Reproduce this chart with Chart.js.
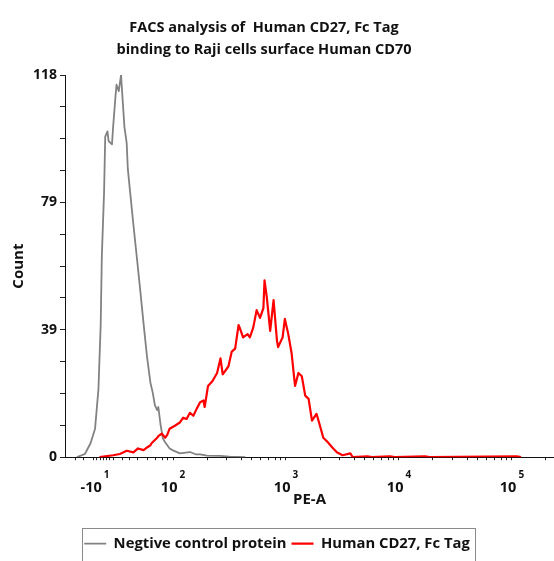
<!DOCTYPE html>
<html>
<head>
<meta charset="utf-8">
<script src="https://cdn.jsdelivr.net/npm/chart.js@4.4.1/dist/chart.umd.min.js"></script>
<style>
  html, body { margin: 0; padding: 0; background: #fff; }
</style>
</head>
<body>
<canvas id="facsChart" width="554" height="561"></canvas>
<script>
// PE-A is given in display decades: 2 = 10^2, 3 = 10^3 ... (below 2 is the linear / negative part)
const negPeA = [1.15, 1.22, 1.27, 1.31, 1.34, 1.36, 1.37, 1.39, 1.40, 1.42,
    1.43, 1.46, 1.47, 1.49, 1.50, 1.52, 1.54, 1.55, 1.57, 1.59,
    1.60, 1.62, 1.65, 1.68, 1.71, 1.74, 1.77, 1.80, 1.82, 1.84,
    1.86, 1.87, 1.89, 1.91, 1.93, 1.97, 2.00, 2.06, 2.13, 2.15,
    2.20, 2.24, 2.30, 2.42, 2.50, 2.64];
const negCount = [0, 1, 4.3, 8.8, 21, 41, 62, 82, 99, 100.6,
    97.6, 96.6, 102, 111, 115, 113, 118, 112.5, 102, 97,
    89, 82, 71.6, 61.6, 51.5, 41, 31, 23, 20, 16,
    14.5, 15.5, 10, 5.8, 4.6, 2.7, 2.1, 1.2, 1.5, 1.6,
    0.9, 0.9, 0.5, 0.4, 0.2, 0];

const cd27PeA = [1.35, 1.47, 1.53, 1.59, 1.65, 1.69, 1.74, 1.77, 1.80, 1.81,
    1.86, 1.87, 1.90, 1.93, 1.95, 1.97, 2.02, 2.06, 2.09, 2.12,
    2.15, 2.18, 2.21, 2.24, 2.27, 2.28, 2.31, 2.35, 2.39, 2.42,
    2.44, 2.49, 2.52, 2.55, 2.58, 2.59, 2.62, 2.66, 2.68, 2.71,
    2.74, 2.77, 2.80, 2.81, 2.83, 2.86, 2.89, 2.92, 2.93, 2.97,
    2.99, 3.02, 3.05, 3.08, 3.11, 3.14, 3.17, 3.20, 3.23, 3.27,
    3.30, 3.33, 3.37, 3.41, 3.45, 3.50, 3.57, 3.59, 3.72, 3.76,
    3.92, 3.96, 4.23, 4.27, 5.04, 5.08];
const cd27Count = [0, 0.6, 1, 2, 1.5, 2.7, 2.2, 3, 3.7, 4.3,
    6, 6.5, 7.3, 6, 7, 8.8, 9.8, 10.7, 12.2, 11.8,
    13.7, 12.8, 15, 17, 17.5, 15.5, 22, 23.5, 26, 30.5,
    25.6, 28, 32.6, 33.5, 40.8, 40, 37, 38, 37, 40,
    45.4, 43, 46, 54.6, 49.4, 39, 48.5, 36, 34, 37,
    42.7, 38, 32, 22, 26, 25, 19, 18, 11.3, 13.4,
    9.8, 6, 4.6, 3, 1.5, 0.6, 1.2, 0, 0.3, 0,
    0.3, 0, 0.3, 0, 0.3, 0];

const seriesNames = ['Negtive control protein', 'Human CD27, Fc Tag'];
const titleLines = ['FACS analysis of  Human CD27, Fc Tag', 'binding to Raji cells surface Human CD70'];

const xMin = 1.044;
const xMax = 5.372;
const xTickPos = [1.31, 2, 3, 4, 5];
const xTickBase = ['-10', '10', '10', '10', '10'];
const xTickExp = ['1', '2', '3', '4', '5'];
// small tick marks of the biexponential axis
const xMinorPos = [1.133, 1.204, 1.292, 1.327, 1.354, 1.381, 1.407, 1.442, 1.469,
    1.549, 1.619, 1.690, 1.770, 1.841, 1.903, 1.947];

const yMax = 118;
const yTickLabels = ['0', '39', '79', '118'];

const FONT = '"Open Sans", "DejaVu Sans", sans-serif';
Chart.defaults.font.family = FONT;
Chart.defaults.color = '#111';

function toPoints(xs, ys) {
    return xs.map((x, i) => ({ x: x, y: ys[i] }));
}

// title sits a little left of the canvas centre in the original
const titlePlugin = {
    id: 'leftTitle',
    afterDraw(chart) {
        const ctx = chart.ctx;
        ctx.save();
        ctx.fillStyle = '#111';
        ctx.font = 'bold 14.5px ' + FONT;
        ctx.textAlign = 'center';
        ctx.textBaseline = 'middle';
        titleLines.forEach((t, i) => ctx.fillText(t, 264, 28 + i * 22));
        ctx.restore();
    }
};

const xLabelPlugin = {
    id: 'xLabels',
    afterDraw(chart) {
        const ctx = chart.ctx;
        const xs = chart.scales.x;
        ctx.save();
        ctx.fillStyle = '#111';
        ctx.textBaseline = 'middle';
        ctx.textAlign = 'left';
        xTickPos.forEach((v, i) => {
            const px = xs.getPixelForValue(v);
            ctx.font = 'bold 14.5px ' + FONT;
            const bw = ctx.measureText(xTickBase[i]).width;
            ctx.font = 'bold 10px ' + FONT;
            const ew = ctx.measureText(xTickExp[i]).width;
            const left = px - (bw + ew + 2) / 2;
            ctx.font = 'bold 14.5px ' + FONT;
            ctx.fillText(xTickBase[i], left, 488);
            ctx.font = 'bold 10px ' + FONT;
            ctx.fillText(xTickExp[i], left + bw + 2, 475);
        });
        ctx.restore();
    }
};

const legendBoxPlugin = {
    id: 'legendBox',
    afterDraw(chart) {
        const boxes = chart.legend.legendHitBoxes;
        if (!boxes || !boxes.length) return;
        const first = boxes[0];
        const last = boxes[boxes.length - 1];
        const ctx = chart.ctx;
        ctx.save();
        ctx.strokeStyle = '#8a8a8a';
        ctx.lineWidth = 1;
        const left = Math.round(first.left) - 2;
        const right = Math.round(last.left + last.width) + 5;
        const top = Math.round(first.top) - 8;
        ctx.strokeRect(left + 0.5, top + 0.5, right - left, 40);
        ctx.restore();
    }
};

new Chart(document.getElementById('facsChart'), {
    type: 'line',
    data: {
        datasets: [{
            label: seriesNames[0],
            data: toPoints(negPeA, negCount),
            borderColor: '#828282',
            backgroundColor: '#828282',
            borderWidth: 1.8,
            order: 1
        }, {
            label: seriesNames[1],
            data: toPoints(cd27PeA, cd27Count),
            borderColor: '#ff0000',
            backgroundColor: '#ff0000',
            borderWidth: 2.2,
            order: 0
        }]
    },
    options: {
        responsive: false,
        animation: false,
        devicePixelRatio: 1,
        layout: { padding: { top: 75, left: 0, right: 0, bottom: 0 } },
        elements: {
            point: { radius: 0, hoverRadius: 0 },
            line: { tension: 0, fill: false, borderJoinStyle: 'round' }
        },
        plugins: {
            tooltip: { enabled: false },
            title: { display: false },
            legend: {
                position: 'bottom',
                labels: {
                    usePointStyle: true,
                    pointStyle: 'line',
                    pointStyleWidth: 22,
                    padding: 5,
                    color: '#111',
                    font: { size: 14.8, weight: 'bold' },
                    sort: (a, b) => a.datasetIndex - b.datasetIndex
                }
            }
        },
        scales: {
            x: {
                type: 'linear',
                min: xMin,
                max: xMax,
                afterBuildTicks: scale => {
                    const pos = [...xMinorPos, ...xTickPos.slice(1)];
                    for (let n = 2; n <= 5; n++) {
                        for (let k = 2; k <= 9; k++) {
                            const v = n + Math.log10(k);
                            if (v < xMax) pos.push(v);
                        }
                    }
                    scale.ticks = pos.sort((a, b) => a - b).map(v => ({ value: v }));
                },
                afterFit: scale => { scale.height = 74; },
                ticks: { callback: () => '', autoSkip: false, maxRotation: 0 },
                grid: { drawOnChartArea: false, tickLength: 3, tickColor: '#222' },
                border: { color: '#111', width: 1 },
                title: {
                    display: true,
                    text: 'PE-A',
                    color: '#111',
                    font: { size: 15, weight: 'bold' },
                    padding: { top: 0, bottom: 22 }
                }
            },
            y: {
                min: 0,
                max: yMax,
                afterBuildTicks: scale => {
                    scale.ticks = Array.from({ length: 13 }, (_, k) => ({ value: k * yMax / 12 }));
                },
                afterFit: scale => { scale.width = 65; },
                ticks: {
                    autoSkip: false,
                    padding: 3,
                    color: '#111',
                    font: { size: 14, weight: 'bold' },
                    callback: (value, index) => index % 4 === 0 ? yTickLabels[index / 4] : ''
                },
                grid: { drawOnChartArea: false, tickLength: 5, tickColor: '#222' },
                border: { color: '#111', width: 1 },
                title: {
                    display: true,
                    text: 'Count',
                    color: '#111',
                    font: { size: 15, weight: 'bold' },
                    padding: { top: 10, bottom: 0 }
                }
            }
        }
    },
    plugins: [titlePlugin, xLabelPlugin, legendBoxPlugin]
});
</script>
</body>
</html>
